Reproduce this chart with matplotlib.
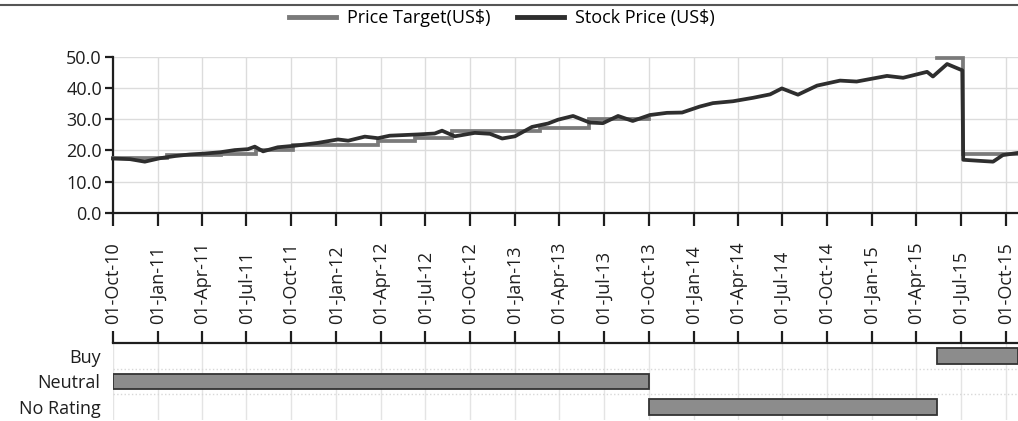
import matplotlib
matplotlib.use("Agg")
import matplotlib.pyplot as plt
import matplotlib.dates as mdates
import numpy as np
import pandas as pd
from matplotlib.lines import Line2D

plt.rcParams['font.family'] = ['Open Sans', 'DejaVu Sans']

# Stock price history (US$)
stock_dates = [
    "2010-10-01", "2010-11-05", "2010-12-05", "2011-01-05", "2011-02-05", "2011-03-07",
    "2011-04-07", "2011-05-08", "2011-06-07", "2011-07-04", "2011-07-18", "2011-08-04",
    "2011-09-03", "2011-10-08", "2011-11-24", "2012-01-04", "2012-01-25", "2012-02-28",
    "2012-03-26", "2012-04-19", "2012-06-16", "2012-07-20", "2012-08-04", "2012-08-30",
    "2012-10-10", "2012-11-10", "2012-12-05", "2012-12-31", "2013-02-04", "2013-03-09",
    "2013-03-29", "2013-04-29", "2013-06-02", "2013-06-29", "2013-07-30", "2013-08-29",
    "2013-10-03", "2013-11-07", "2013-12-08", "2014-01-13", "2014-02-09", "2014-03-22",
    "2014-05-02", "2014-06-06", "2014-06-30", "2014-08-02", "2014-09-10", "2014-10-27",
    "2014-11-30", "2015-01-31", "2015-03-05", "2015-04-23", "2015-05-05", "2015-06-03",
    "2015-06-29", "2015-07-04", "2015-07-06", "2015-08-05", "2015-09-05", "2015-09-25",
    "2015-10-26",
]
stock_prices = [
    17.4, 17.2, 16.4, 17.5, 18.2, 18.7,
    19.0, 19.4, 20.1, 20.4, 21.2, 19.7,
    21.0, 21.5, 22.4, 23.5, 23.1, 24.4,
    23.9, 24.7, 25.1, 25.4, 26.3, 24.5,
    25.6, 25.3, 23.8, 24.5, 27.5, 28.6,
    29.8, 31.0, 28.9, 28.7, 31.0, 29.4,
    31.3, 32.0, 32.1, 34.0, 35.1, 35.7,
    36.8, 37.9, 39.8, 37.8, 40.7, 42.3,
    42.0, 43.8, 43.2, 45.1, 43.6, 47.6,
    45.9, 45.6, 17.0, 16.7, 16.4, 18.5,
    19.2,
]

# Price target history (US$); NaN where no target was published
target_dates = [
    "2010-10-01", "2011-01-20", "2011-05-10", "2011-07-20", "2011-10-05", "2012-03-25",
    "2012-06-10", "2012-08-25", "2013-02-20", "2013-06-01", "2013-10-01",
    "2015-05-13", "2015-07-05", "2015-10-26",
]
target_prices = [
    17.5, 18.5, 19.0, 20.0, 21.7, 22.9,
    24.0, 26.3, 27.2, 30.0, np.nan,
    49.5, 19.0, 19.0,
]

# Rating history
rating_levels = ["Buy", "Neutral", "No Rating"]
rating_names = ["Neutral", "No Rating", "Buy"]
rating_starts = ["2010-10-01", "2013-10-01", "2015-05-13"]
rating_ends = ["2013-10-01", "2015-05-13", "2015-10-26"]

x_start, x_end = "2010-10-01", "2015-10-26"
y_ticks = [0, 10, 20, 30, 40, 50]

W, H = 1018, 421
fig = plt.figure(figsize=(W / 100, H / 100), dpi=100)

def fx(px):
    return px / W

def fy(py):
    return 1 - py / H

# frame line across the top
fig.add_artist(Line2D([0, 1], [fy(5), fy(5)], color="#555555", lw=1.5))

ax = fig.add_axes([fx(113), fy(213), fx(1018) - fx(113), fy(56.5) - fy(213)])
axr = fig.add_axes([fx(113), fy(420), fx(1018) - fx(113), fy(343) - fy(420)], sharex=ax)

sd = pd.to_datetime(stock_dates)
td = pd.to_datetime(target_dates)
grid_c = "#dcdcdc"
pt_color = "#7a7a7a"
sp_color = "#2e2e2e"
txt_c = "#1e1e1e"
fs = 13

ax.plot(td, target_prices, drawstyle="steps-post", color=pt_color, lw=2.7,
        solid_joinstyle="miter", clip_on=False, zorder=3)
ax.plot(sd, stock_prices, color=sp_color, lw=2.7, clip_on=False, zorder=4)

ax.set_xlim(pd.Timestamp(x_start), pd.Timestamp(x_end))
ax.set_ylim(0, 50)
ax.set_yticks(y_ticks)
ax.set_yticklabels([f"{v:.1f}" for v in y_ticks])
ax.xaxis.set_major_locator(mdates.MonthLocator(bymonth=[1, 4, 7, 10], bymonthday=1))
ax.xaxis.set_major_formatter(mdates.DateFormatter("%d-%b-%y"))
ax.grid(True, color=grid_c, lw=1)
ax.set_axisbelow(True)
for s in ["top", "right"]:
    ax.spines[s].set_visible(False)
for s in ["left", "bottom"]:
    ax.spines[s].set_color(txt_c)
    ax.spines[s].set_linewidth(1.6)
ax.tick_params(axis="y", direction="out", length=6, width=1.6, color=txt_c,
               labelsize=fs, pad=2, labelcolor=txt_c)
ax.tick_params(axis="x", direction="out", length=9, width=1.6, color=txt_c,
               labelbottom=False)

# Rating panel; its top axis carries the date labels, aligned on their first character
y_pos = {name: i for i, name in enumerate(rating_levels)}
for name, s, e in zip(rating_names, rating_starts, rating_ends):
    s_ts, e_ts = pd.Timestamp(s), pd.Timestamp(e)
    axr.barh(y_pos[name], mdates.date2num(e_ts) - mdates.date2num(s_ts),
             left=mdates.date2num(s_ts), height=0.62, color="#8c8c8c",
             edgecolor="#333333", lw=1.3, zorder=3)
axr.set_ylim(2.5, -0.5)
axr.set_yticks(range(len(rating_levels)))
axr.set_yticklabels(rating_levels)
axr.set_yticks([0.5, 1.5], minor=True)
axr.grid(True, axis="x", color="#e4e4e4", lw=1)
axr.grid(True, axis="y", which="minor", color="#d8d8d8", lw=1, ls=":")
axr.set_axisbelow(True)
for s in ["left", "right", "bottom"]:
    axr.spines[s].set_visible(False)
axr.spines["top"].set_color(txt_c)
axr.spines["top"].set_linewidth(1.6)
axr.tick_params(axis="x", which="both", top=True, bottom=False, labeltop=True,
                labelbottom=False, direction="out", length=9, width=1.6, color=txt_c,
                labelsize=fs, pad=5, labelrotation=90, labelcolor=txt_c)
axr.tick_params(axis="y", which="both", length=0, labelsize=fs, pad=9,
                labelcolor=txt_c)

handles = [Line2D([], [], color=pt_color, lw=3.5), Line2D([], [], color=sp_color, lw=3.5)]
fig.legend(handles, ["Price Target(US$)", "Stock Price (US$)"], loc="center",
           bbox_to_anchor=(fx(502), fy(18)), ncol=2, frameon=False, fontsize=13,
           handlelength=2.6, columnspacing=1.5, handletextpad=0.6)

fig.savefig("out.png", dpi=100)
